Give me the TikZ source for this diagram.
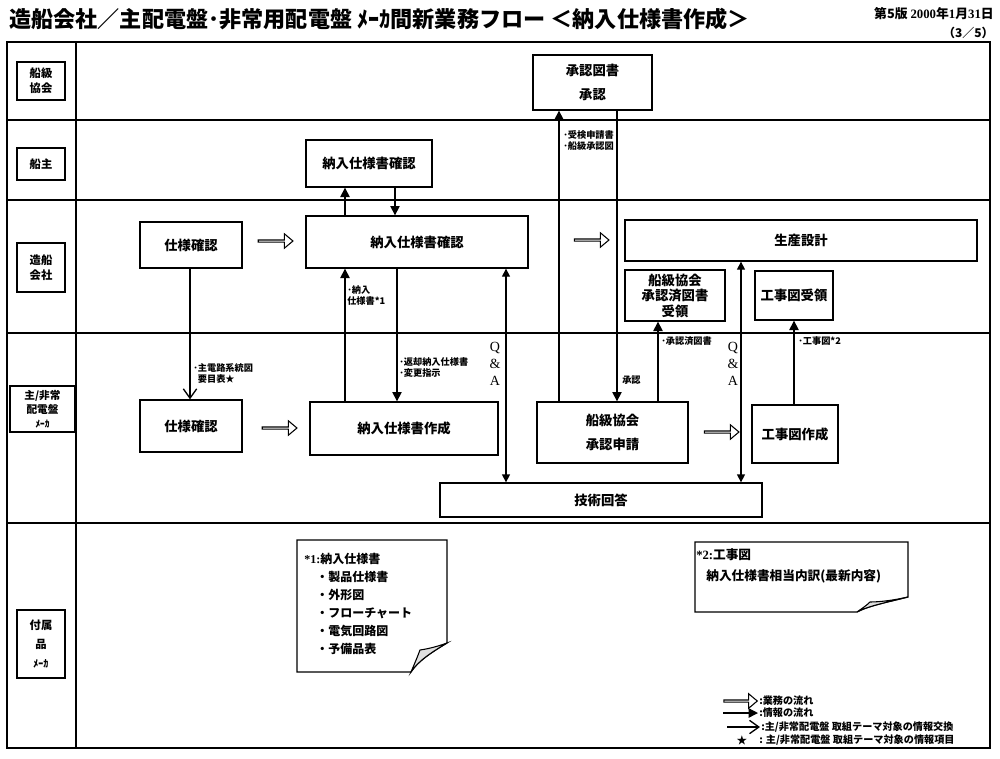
\documentclass[tikz,border=0pt]{standalone}
\usepackage{fontspec}
\setmainfont{Noto Sans CJK JP}
\newfontfamily\lserif{Liberation Serif}
\usetikzlibrary{arrows.meta,shapes.arrows}
\tikzset{
  sz/.style 2 args={minimum width=#1*0.75pt, minimum height=#2*0.75pt},
  box/.style={draw, line width=1pt, inner sep=0pt, align=center, font=\bfseries\fontsize{10}{12}\selectfont},
  lanebox/.style={draw, line width=0.9pt, inner sep=0pt, align=center, font=\bfseries\fontsize{8.5}{11}\selectfont},
  info/.style={line width=1pt, -{Triangle[length=7pt,width=7pt]}},
  exch/.style={line width=1pt, -{Straight Barb[length=7pt,width=10pt,line width=1pt]}},
  qa/.style={line width=1pt, {Triangle[length=6pt,width=6pt]}-{Triangle[length=6pt,width=6pt]}},
  flow/.style={draw, single arrow, single arrow head extend=2.4pt, single arrow tip angle=80, single arrow head indent=0pt, minimum height=26pt, minimum width=10.8pt, inner sep=0pt, line width=0.8pt},
  lbl/.style={font=\bfseries\fontsize{6.9}{8.8}\selectfont, align=left, inner sep=0pt, anchor=north west},
  qatext/.style={font=\lserif\fontsize{10.5}{12.5}\selectfont, align=center, inner sep=0pt},
  lanerule/.style={line width=1pt},
  note/.style={draw, line width=0.9pt, fill=white},
  fold/.style={draw, line width=0.8pt, fill=gray!25},
  legtext/.style={font=\bfseries\fontsize{7.6}{9}\selectfont, anchor=west, inner sep=0pt},
}
\begin{document}
\begin{tikzpicture}[x=0.75pt,y=-0.75pt]
\useasboundingbox (0,0) rectangle (1000,758);
% header
\node[anchor=west, inner sep=0pt, font=\bfseries\fontsize{16.6}{18}\selectfont] (title) at (9,19)
  {造船会社／主配電盤･非常用配電盤 ﾒｰｶ間新業務フロー ＜納入仕様書作成＞};
\node[anchor=east, inner sep=0pt, font=\bfseries\fontsize{9.6}{11}\selectfont] (date) at (994,14)
  {第5版 {\lserif 2000}年{\lserif 1}月{\lserif 31}日};
\node[anchor=east, inner sep=0pt, font=\bfseries\fontsize{9}{10}\selectfont] (page) at (994,33) {（3／5）};
% frame and lanes
\draw[line width=1.3pt] (7,42) rectangle (990,748);
\draw[line width=1.3pt] (76,42) -- (76,748);
\foreach \yy in {120,200,333,523} \draw[lanerule] (7,\yy) -- (990,\yy);
% lane labels
\node[lanebox, sz={48}{38}] (L1) at (41,81) {船級\\協会};
\node[lanebox, sz={48}{32}] (L2) at (41,164) {船主};
\node[lanebox, sz={48}{49}] (L3) at (41,267.5) {造船\\会社};
\node[lanebox, sz={65}{46}, font=\bfseries\fontsize{8}{10.5}\selectfont] (L4) at (42.5,409) {主/非常\\配電盤\\{\fontsize{7}{8}\selectfont ﾒｰｶ}};
\node[lanebox, sz={48}{68}, font=\bfseries\fontsize{8.5}{14}\selectfont] (L5) at (41,644) {付属\\品\\{\fontsize{7.5}{9}\selectfont ﾒｰｶ}};
% process boxes
\node[box, sz={119}{55}] (sk) at (592.5,82.5) {承認図書\\[6pt]承認};
\node[box, sz={126}{47}] (so) at (369,163.5) {納入仕様書確認};
\node[box, sz={102}{46}] (zs) at (191,245) {仕様確認};
\node[box, sz={222}{52}] (zn) at (417,242) {納入仕様書確認};
\node[box, sz={352}{41}] (sei) at (801,240.5) {生産設計};
\node[box, sz={100}{51}, font=\bfseries\fontsize{10}{11.6}\selectfont] (jr) at (675,295.5) {船級協会\\承認済図書\\受領};
\node[box, sz={78}{49}] (kr) at (794,295.5) {工事図受領};
\node[box, sz={102}{52}] (ms) at (191,426) {仕様確認};
\node[box, sz={188}{53}] (mn) at (404,428.5) {納入仕様書作成};
\node[box, sz={151}{61}] (ma) at (612.5,432.5) {船級協会\\[6pt]承認申請};
\node[box, sz={86}{58}] (kz) at (795,434) {工事図作成};
\node[box, sz={322}{34}] (gk) at (601,500) {技術回答};
% work-flow arrows
\node[flow] (f1) at (275,241) {};
\node[flow] (f2) at (591,240) {};
\node[flow] (f3) at (279,428) {};
\node[flow] (f4) at (721,432) {};
% x positions of vertical connectors
\coordinate (xa) at (345,0);
\coordinate (xb) at (395,0);
\coordinate (xc) at (190,0);
\coordinate (xd) at (397,0);
\coordinate (xe) at (506,0);
\coordinate (xf) at (559,0);
\coordinate (xg) at (617,0);
\coordinate (xh) at (658,0);
\coordinate (xi) at (741,0);
\coordinate (xj) at (794,0);
% connectors
\draw[info] (zn.north -| xa) -- (so.south -| xa);
\draw[info] (so.south -| xb) -- (zn.north -| xb);
\draw[exch] (zs.south -| xc) -- (ms.north -| xc);
\draw[info] (mn.north -| xa) -- (zn.south -| xa);
\draw[info] (zn.south -| xd) -- (mn.north -| xd);
\draw[qa] (zn.south -| xe) -- (gk.north -| xe);
\draw[info] (ma.north -| xf) -- (sk.south -| xf);
\draw[info] (sk.south -| xg) -- (ma.north -| xg);
\draw[info] (ma.north -| xh) -- (jr.south -| xh);
\draw[qa] (sei.south -| xi) -- (gk.north -| xi);
\draw[info] (kz.north -| xj) -- (kr.south -| xj);
% connector labels
\node[lbl] (t1) at (193,363) {･主電路系統図\\\hspace{0.5em}要目表★};
\node[lbl] (t2) at (347,285) {･納入\\仕様書*1};
\node[lbl] (t3) at (399,357) {･返却納入仕様書\\･変更指示};
\node[lbl] (t4) at (563,130) {･受検申請書\\･船級承認図};
\node[lbl] (t5) at (622,376) {承認};
\node[lbl] (t6) at (661,336) {･承認済図書};
\node[lbl] (t7) at (798,336) {･工事図*2};
\node[qatext] (q1) at (495,364) {Q\\\&\\A};
\node[qatext] (q2) at (733,364) {Q\\\&\\A};
% note 1
\draw[note] (297,540) -- (447,540) -- (447,643) .. controls (432,652) and (418,661) .. (411,672) -- (297,672) -- cycle;
\draw[fold] (447,643) .. controls (436,647) and (427,649) .. (420,650) .. controls (417,658) and (414,665) .. (411,672) .. controls (418,661) and (432,652) .. (447,643) -- cycle;
\node[anchor=north west, inner sep=0pt, align=left, font=\bfseries\fontsize{9}{13.5}\selectfont] (n1) at (304,553)
  {{\lserif *1:}納入仕様書\\
   \hspace{1em}・製品仕様書\\
   \hspace{1em}・外形図\\
   \hspace{1em}・フローチャート\\
   \hspace{1em}・電気回路図\\
   \hspace{1em}・予備品表};
% note 2
\draw[note] (695,542) -- (908,542) -- (908,597) .. controls (888,602) and (868,606) .. (857,612) -- (695,612) -- cycle;
\draw[fold] (908,597) .. controls (895,600) and (880,602) .. (870,602) .. controls (866,606) and (861,609) .. (857,612) .. controls (868,606) and (888,602) .. (908,597) -- cycle;
\node[anchor=north west, inner sep=0pt, align=left, font=\bfseries\fontsize{9.5}{16}\selectfont] (n2) at (696,548)
  {{\lserif *2:}工事図\\ \hspace{0.8em}納入仕様書相当内訳(最新内容)};
% legend
\node[flow, minimum height=25pt] (lg1) at (740,701) {};
\coordinate (lg2a) at (723,713);
\coordinate (lg2b) at (758,713);
\coordinate (lg3a) at (727,727);
\coordinate (lg3b) at (760,727);
\draw[info] (lg2a) -- (lg2b);
\draw[exch] (lg3a) -- (lg3b);
\node[inner sep=0pt, font=\fontsize{8}{9}\selectfont] (lg4) at (742,740) {★};
\node[legtext] (lt1) at (759,701) {:業務の流れ};
\node[legtext] (lt2) at (759,713) {:情報の流れ};
\node[legtext] (lt3) at (761,727) {:主/非常配電盤 取組テーマ対象の情報交換};
\node[legtext] (lt4) at (759,740) {: 主/非常配電盤 取組テーマ対象の情報項目};
\end{tikzpicture}
\end{document}
